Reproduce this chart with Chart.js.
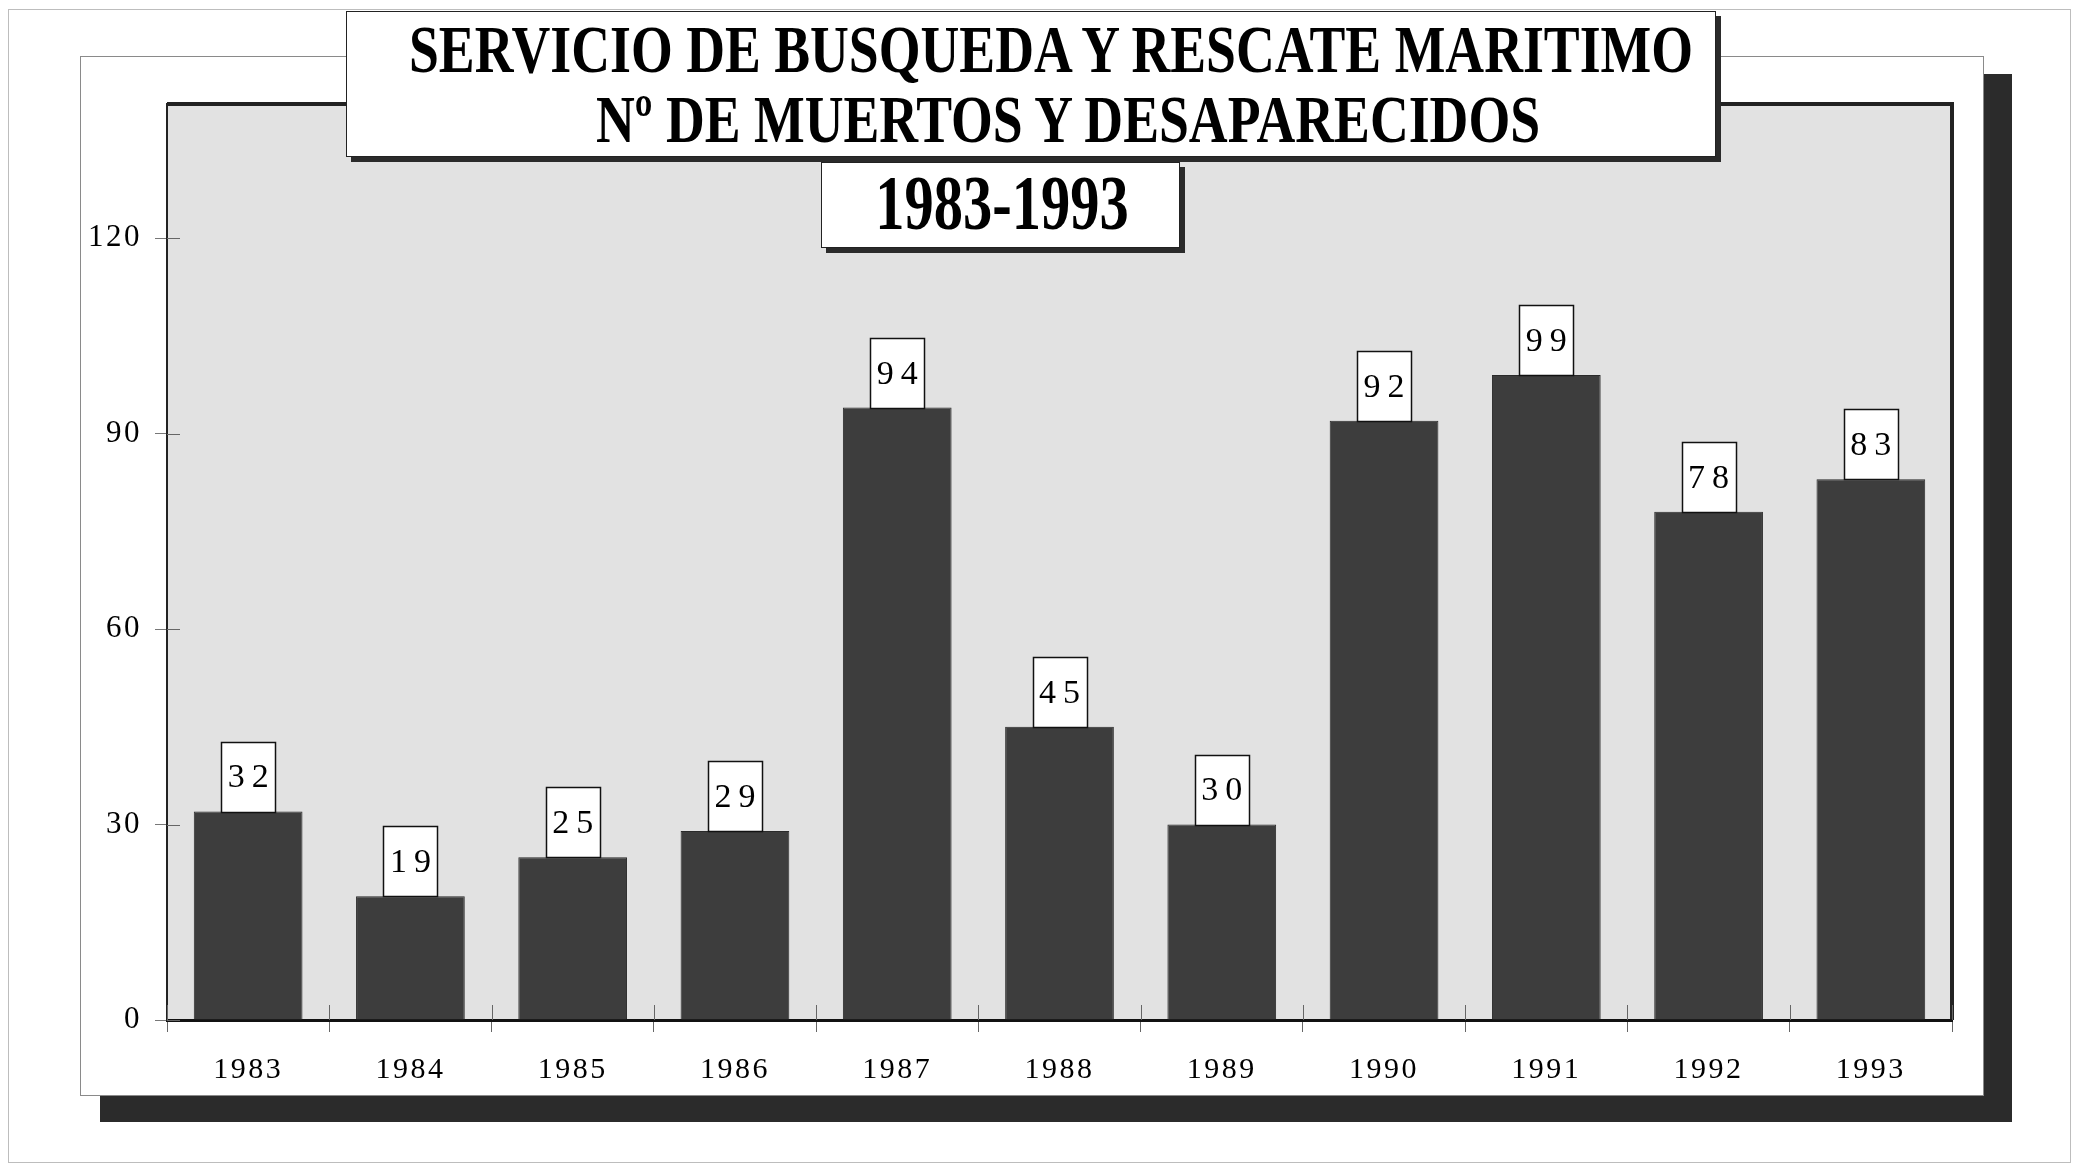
<!DOCTYPE html>
<html>
<head>
<meta charset="utf-8">
<script src="https://cdn.jsdelivr.net/npm/chart.js@4/dist/chart.umd.min.js"></script>
<style>
html, body { margin: 0; padding: 0; background: #fff; }
#marco { position: relative; width: 2092px; height: 1169px; overflow: hidden; }
#grafico { position: absolute; left: 0; top: 0; }
.caja { position: absolute; box-sizing: border-box; background: #fff; border: 1px solid #222; box-shadow: 5px 5px 0 #2b2b2b; }
.linea { position: absolute; white-space: nowrap; font-family: "Liberation Serif", "Times New Roman", serif; font-weight: bold; color: #000; line-height: 1; transform: translateX(-50%) scaleX(0.79); }
</style>
</head>
<body>
<div id="marco">
  <canvas id="grafico" width="2092" height="1169"></canvas>
  <div class="caja" style="left:346px; top:11px; width:1370px; height:146px;"></div>
  <div class="caja" style="left:821px; top:162px; width:359px; height:86px;"></div>
  <div class="linea" style="left:1051px; top:15px; font-size:68px;">SERVICIO DE BUSQUEDA Y RESCATE MARITIMO</div>
  <div class="linea" style="left:1068px; top:85px; font-size:68px;">Nº DE MUERTOS Y DESAPARECIDOS</div>
  <div class="linea" style="left:1002px; top:164px; font-size:78px; transform: translateX(-50%) scaleX(0.75);">1983-1993</div>
</div>
<script>
// datos
const anios = ['1983', '1984', '1985', '1986', '1987', '1988', '1989', '1990', '1991', '1992', '1993'];
const muertos = [32, 19, 25, 29, 94, 45, 30, 92, 99, 78, 83];
const marcasY = [0, 30, 60, 90, 120];

const fuente = '"Liberation Serif", "Times New Roman", serif';

// panel blanco, sombra y fondo gris del area
const fondo = {
  id: 'fondo',
  beforeDraw(chart) {
    const ctx = chart.ctx;
    const a = chart.chartArea;
    ctx.save();
    ctx.strokeStyle = '#bdbdbd';
    ctx.lineWidth = 1;
    ctx.strokeRect(8.5, 9.5, 2062, 1153);
    ctx.fillStyle = '#2b2b2b';
    ctx.fillRect(1984, 74, 28, 1048);
    ctx.fillRect(100, 1096, 1912, 26);
    ctx.fillStyle = '#fff';
    ctx.fillRect(80, 56, 1904, 1040);
    ctx.strokeStyle = '#8a8a8a';
    ctx.strokeRect(80.5, 56.5, 1903, 1039);
    ctx.fillStyle = '#e2e2e2';
    ctx.fillRect(a.left, a.top, a.right - a.left, a.bottom - a.top);
    ctx.strokeStyle = '#222';
    ctx.lineWidth = 4;
    ctx.beginPath();
    ctx.moveTo(a.left, a.top);
    ctx.lineTo(a.right, a.top);
    ctx.lineTo(a.right, a.bottom);
    ctx.stroke();
    ctx.restore();
    ctx.letterSpacing = '2.5px';
  },
  afterDraw(chart) {
    chart.ctx.letterSpacing = '0px';
  }
};

// marcas cortas que cruzan los ejes hacia dentro
const marcas = {
  id: 'marcas',
  afterDatasetsDraw(chart) {
    const ctx = chart.ctx;
    const x = chart.scales.x, y = chart.scales.y;
    ctx.save();
    ctx.strokeStyle = '#666';
    ctx.lineWidth = 1;
    ctx.beginPath();
    const paso = (x.right - x.left) / anios.length;
    for (let i = 0; i <= anios.length; i++) {
      const px = Math.round(x.left + i * paso) + 0.5;
      ctx.moveTo(px, x.top - 15);
      ctx.lineTo(px, x.top);
    }
    marcasY.forEach(v => {
      const py = Math.round(y.getPixelForValue(v)) + 0.5;
      ctx.moveTo(y.right, py);
      ctx.lineTo(y.right + 13, py);
    });
    ctx.stroke();
    ctx.restore();
  }
};

// cajas blancas con el valor encima de cada barra
const etiquetas = {
  id: 'etiquetas',
  afterDatasetsDraw(chart) {
    const ctx = chart.ctx;
    const meta = chart.getDatasetMeta(0);
    ctx.save();
    ctx.letterSpacing = '7px';
    ctx.font = '34px ' + fuente;
    ctx.textAlign = 'center';
    ctx.textBaseline = 'middle';
    meta.data.forEach((barra, i) => {
      const w = 54, h = 70;
      const bx = Math.round(barra.x - w / 2) + 0.5;
      const by = Math.round(barra.y - h) + 0.5;
      ctx.fillStyle = '#fff';
      ctx.fillRect(bx, by, w, h);
      ctx.strokeStyle = '#111';
      ctx.lineWidth = 1.5;
      ctx.strokeRect(bx, by, w, h);
      ctx.fillStyle = '#000';
      ctx.fillText(String(muertos[i]), barra.x + 3.5, barra.y - h / 2 + 2);
    });
    ctx.restore();
  }
};

new Chart(document.getElementById('grafico'), {
  type: 'bar',
  data: {
    labels: anios,
    datasets: [{
      data: muertos,
      backgroundColor: '#3d3d3d',
      borderColor: '#2a2a2a',
      borderWidth: 1,
      barPercentage: 0.67,
      categoryPercentage: 1
    }]
  },
  options: {
    responsive: false,
    animation: false,
    devicePixelRatio: 1,
    layout: { padding: { top: 104, right: 140, bottom: 0, left: 0 } },
    plugins: {
      legend: { display: false },
      tooltip: { enabled: false }
    },
    scales: {
      x: {
        afterFit: s => { s.height = 149; },
        grid: { display: true, drawOnChartArea: false, tickLength: 12, color: '#666', offset: true },
        border: { display: true, color: '#111', width: 3 },
        ticks: { color: '#000', font: { family: fuente, size: 30 }, padding: 20, maxRotation: 0 }
      },
      y: {
        min: 0,
        max: 140.6,
        afterFit: s => { s.width = 167; },
        afterBuildTicks: s => { s.ticks = marcasY.map(v => ({ value: v })); },
        grid: { display: true, drawOnChartArea: false, tickLength: 12, color: '#777' },
        border: { display: true, color: '#222', width: 2 },
        ticks: { color: '#000', font: { family: fuente, size: 31 }, padding: 13 }
      }
    }
  },
  plugins: [fondo, marcas, etiquetas]
});
</script>
</body>
</html>
